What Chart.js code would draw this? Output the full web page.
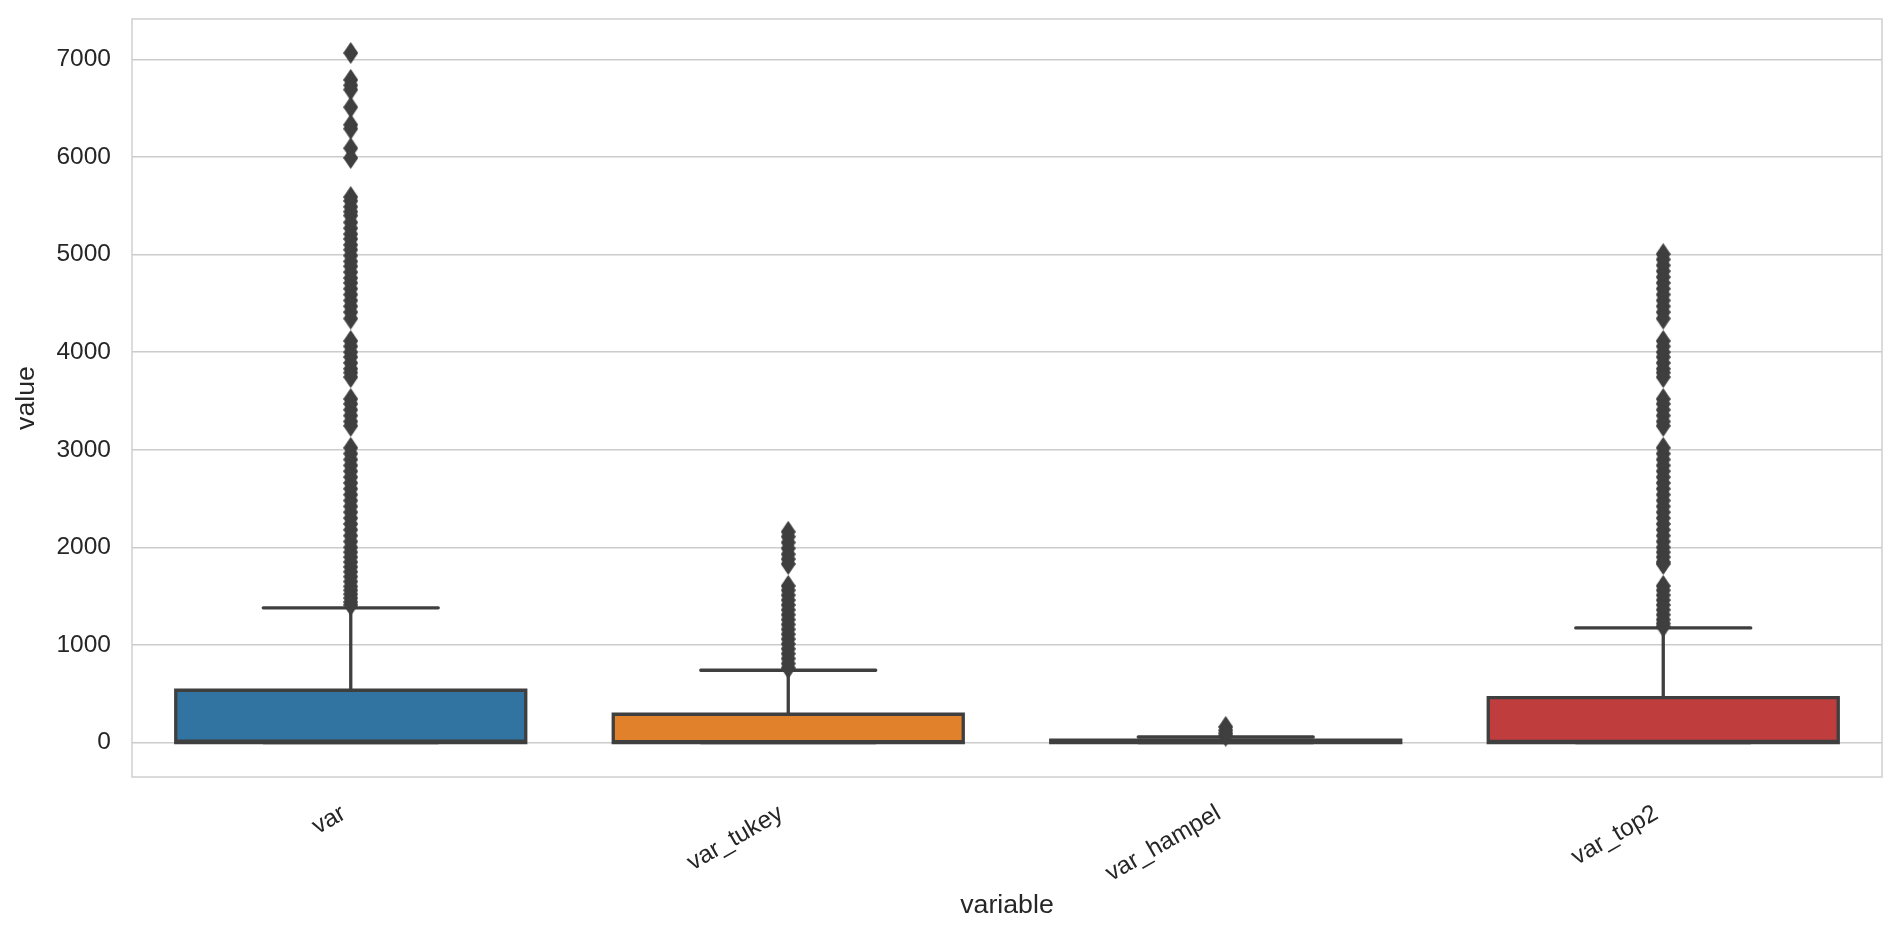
<!DOCTYPE html>
<html>
<head>
<meta charset="utf-8">
<script src="https://cdn.jsdelivr.net/npm/chart.js@4.4.1/dist/chart.umd.min.js"></script>
<style>
  html, body { margin: 0; padding: 0; background: #ffffff; }
  #wrap { width: 1900px; height: 940px; }
</style>
</head>
<body>
<div id="wrap"><canvas id="c" width="1900" height="940"></canvas></div>
<script>
// ---------------- data ----------------
const categories = ['var', 'var_tukey', 'var_hampel', 'var_top2'];
const q1 = [0, 0, 0, 0];
const medians = [15, 8, 5, 12];
const q3 = [536, 290, 25, 460];
const whiskerLow = [0, 0, 0, 0];
const whiskerHigh = [1380, 741, 57, 1175];

const outliersVar = [
  7066, 6790, 6735, 6690, 6510, 6330, 6290, 6090, 5990,
  5590, 5550, 5490, 5440, 5400, 5330, 5270, 5210, 5160, 5100, 5050, 4990, 4930,
  4880, 4820, 4760, 4710, 4650, 4590, 4530, 4470, 4410, 4345,
  4115, 4060, 4000, 3950, 3890, 3830, 3790, 3745,
  3520, 3470, 3410, 3350, 3290, 3245,
  3020, 2960, 2900, 2840, 2780, 2720, 2660, 2600, 2540, 2480, 2420, 2360, 2300,
  2240, 2180, 2120, 2060, 2000, 1950, 1900, 1850, 1800, 1750, 1700, 1650, 1600,
  1560, 1520, 1480, 1440, 1410
];
const outliersTukey = [
  2160, 2110, 2050, 1990, 1930, 1880, 1830,
  1605, 1560, 1510, 1460, 1410, 1360, 1310, 1260, 1210, 1160, 1110, 1060,
  1010, 960, 910, 860, 810, 765
];
const outliersHampel = [160, 125, 95, 70];
const outliersTop2 = [
  5005, 4950, 4890, 4830, 4770, 4710, 4650, 4590, 4530, 4470, 4410, 4345,
  4115, 4060, 4000, 3950, 3890, 3830, 3790, 3745,
  3520, 3470, 3410, 3350, 3290, 3245,
  3020, 2960, 2900, 2840, 2780, 2720, 2660, 2600, 2540, 2480, 2420, 2360, 2300,
  2240, 2180, 2120, 2060, 2000, 1950, 1900, 1850, 1830,
  1605, 1560, 1510, 1460, 1410, 1360, 1310, 1260, 1220, 1190
];
const outliers = [outliersVar, outliersTukey, outliersHampel, outliersTop2];

const yTicks = [0, 1000, 2000, 3000, 4000, 5000, 6000, 7000];
const yMin = -353;
const yMax = 7414;

// ---------------- styles ----------------
const boxColors = ['#3274a1', '#e1812c', '#3a923a', '#c03d3e'];
const lineGray = '#3f3f3f';
const textColor = '#262626';
const gridColor = '#cccccc';
const FONT = "'Liberation Sans', Arial, Helvetica, sans-serif";
const BOX_HALF = 0.4;
const CAP_HALF = 0.2;
const LW = 3.3;

function makeDiamond(w, h, color) {
  const c = document.createElement('canvas');
  c.width = w; c.height = h;
  const g = c.getContext('2d');
  g.fillStyle = color;
  g.beginPath();
  g.moveTo(w / 2, 0);
  g.lineTo(w, h / 2);
  g.lineTo(w / 2, h);
  g.lineTo(0, h / 2);
  g.closePath();
  g.fill();
  return c;
}
const diamond = makeDiamond(15, 22, lineGray);

// ---------------- derived point lists ----------------
const whiskerPts = [];
const outlinePts = [];
const medianPts = [];
const flierPts = [];
categories.forEach((c, i) => {
  whiskerPts.push({x: i, y: q3[i]}, {x: i, y: whiskerHigh[i]}, {x: i, y: null});
  whiskerPts.push({x: i - CAP_HALF, y: whiskerHigh[i]}, {x: i + CAP_HALF, y: whiskerHigh[i]}, {x: i, y: null});
  whiskerPts.push({x: i, y: q1[i]}, {x: i, y: whiskerLow[i]}, {x: i, y: null});
  whiskerPts.push({x: i - CAP_HALF, y: whiskerLow[i]}, {x: i + CAP_HALF, y: whiskerLow[i]}, {x: i, y: null});

  outlinePts.push(
    {x: i - BOX_HALF, y: q1[i]}, {x: i + BOX_HALF, y: q1[i]},
    {x: i + BOX_HALF, y: q3[i]}, {x: i - BOX_HALF, y: q3[i]},
    {x: i - BOX_HALF, y: q1[i]}, {x: i + BOX_HALF, y: q1[i]},
    {x: i, y: null}
  );
  medianPts.push({x: i - BOX_HALF, y: medians[i]}, {x: i + BOX_HALF, y: medians[i]}, {x: i, y: null});
  outliers[i].forEach(v => flierPts.push({x: i, y: v}));
});

const framePlugin = {
  id: 'frame',
  afterDatasetsDraw(chart) {
    const {ctx, chartArea: a} = chart;
    ctx.save();
    ctx.strokeStyle = gridColor;
    ctx.lineWidth = 1.4;
    ctx.strokeRect(a.left, a.top, a.right - a.left, a.bottom - a.top);
    ctx.restore();
  }
};

new Chart(document.getElementById('c'), {
  type: 'bar',
  data: {
    labels: categories,
    datasets: [
      {
        type: 'scatter',
        data: flierPts,
        xAxisID: 'x2',
        pointStyle: diamond,
        pointRadius: 7,
        pointHoverRadius: 7,
        showLine: false,
        order: 0
      },
      {
        type: 'line',
        data: medianPts,
        xAxisID: 'x2',
        borderColor: lineGray,
        borderWidth: LW,
        borderCapStyle: 'butt',
        pointRadius: 0,
        fill: false,
        tension: 0,
        order: 1
      },
      {
        type: 'line',
        data: outlinePts,
        xAxisID: 'x2',
        borderColor: lineGray,
        borderWidth: LW,
        borderCapStyle: 'butt',
        borderJoinStyle: 'miter',
        pointRadius: 0,
        fill: false,
        tension: 0,
        order: 2
      },
      {
        type: 'bar',
        data: categories.map((c, i) => [q1[i], q3[i]]),
        backgroundColor: boxColors,
        borderWidth: 0,
        grouped: false,
        barPercentage: 0.8,
        categoryPercentage: 1.0,
        order: 3
      },
      {
        type: 'line',
        data: whiskerPts,
        xAxisID: 'x2',
        borderColor: lineGray,
        borderWidth: LW,
        borderCapStyle: 'round',
        pointRadius: 0,
        fill: false,
        tension: 0,
        order: 4
      }
    ]
  },
  options: {
    responsive: false,
    animation: false,
    devicePixelRatio: 1,
    layout: { padding: { top: 19, right: 18, left: 0, bottom: 0 } },
    plugins: { legend: { display: false }, tooltip: { enabled: false } },
    scales: {
      x: {
        type: 'category',
        offset: true,
        grid: { display: false, drawTicks: false },
        border: { display: false },
        ticks: {
          minRotation: 30, maxRotation: 30, padding: 22, labelOffset: -7,
          color: textColor, font: { family: FONT, size: 24.5 }
        },
        title: {
          display: true, text: 'variable', color: textColor,
          font: { family: FONT, size: 26.7 }, padding: { top: 0, bottom: 18 }
        },
        afterFit(s) { s.height = 163; s.paddingLeft = 0; s.paddingRight = 0; }
      },
      x2: {
        type: 'linear',
        display: false,
        min: -0.5,
        max: 3.5,
        offset: false
      },
      y: {
        type: 'linear',
        min: yMin,
        max: yMax,
        afterBuildTicks(s) { s.ticks = yTicks.map(v => ({value: v})); },
        grid: { color: gridColor, lineWidth: 1.4, drawTicks: false },
        border: { display: false },
        ticks: {
          padding: 21, color: textColor, font: { family: FONT, size: 24.5 },
          callback: (v) => String(v)
        },
        title: {
          display: true, text: 'value', color: textColor,
          font: { family: FONT, size: 26.7 }, padding: { top: 11, bottom: 0 }
        },
        afterFit(s) { s.width = 132; s.paddingTop = 0; s.paddingBottom = 0; }
      }
    }
  },
  plugins: [framePlugin]
});
</script>
</body>
</html>
